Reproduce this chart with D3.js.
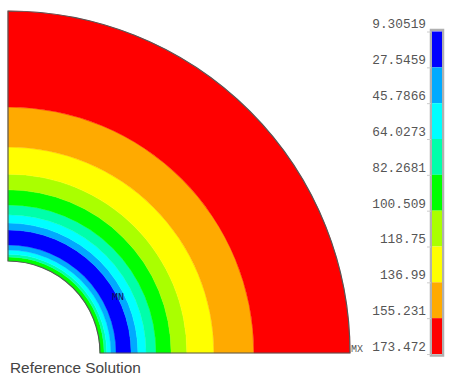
<!DOCTYPE html>
<html>
<head>
<meta charset="utf-8">
<script src="https://cdnjs.cloudflare.com/ajax/libs/d3/7.8.5/d3.min.js"></script>
<style>
html, body { margin: 0; padding: 0; background: #fff; }
svg { display: block; }
</style>
</head>
<body>
<div id="chart"></div>
<script>
// contour levels, low to high
var levelColors = ["#0000ff", "#00aaff", "#00ffff", "#00ffaa", "#00ff00", "#aaff00", "#ffff00", "#ffaa00", "#ff0000"];
var levelLabels = ["9.30519", "27.5459", "45.7866", "64.0273", "82.2681", "100.509", "118.75", "136.99", "155.231", "173.472"];

// band edges read along the radius, as a fraction of the outer radius
var bandEdges = [0.269, 0.281, 0.289, 0.301, 0.316, 0.36, 0.38, 0.404, 0.433, 0.477, 0.523, 0.602, 0.719, 1];
// level index of each band, inside to outside
var bandLevels = [4, 3, 2, 1, 0, 1, 2, 3, 4, 5, 6, 7, 8];

var width = 451, height = 388;
var cx = 8, cy = 353, outer = 342;

var svg = d3.select("#chart").append("svg")
    .attr("width", width)
    .attr("height", height);

var r = d3.scaleLinear().domain([0, 1]).range([0, outer]);
var arc = d3.arc().startAngle(0).endAngle(Math.PI / 2);

var plot = svg.append("g")
    .attr("transform", "translate(" + cx + "," + cy + ")");

plot.selectAll("path.band")
    .data(bandLevels)
    .enter().append("path")
    .attr("class", "band")
    .attr("d", (d, i) => arc({innerRadius: r(bandEdges[i]), outerRadius: r(bandEdges[i + 1])}))
    .attr("fill", d => levelColors[d])
    .attr("stroke", d => levelColors[d])
    .attr("stroke-width", 0.4);

// outline of the quarter ring
plot.append("path")
    .attr("d", arc({innerRadius: r(bandEdges[0]), outerRadius: r(1)}))
    .attr("fill", "none")
    .attr("stroke", "#555")
    .attr("stroke-width", 1.2);

plot.append("text")
    .attr("x", 110)
    .attr("y", -53)
    .attr("text-anchor", "middle")
    .attr("font-family", "Liberation Mono")
    .attr("font-size", 10)
    .attr("fill", "#115")
    .text("MN");

plot.append("text")
    .attr("x", 343)
    .attr("y", -1)
    .attr("font-family", "Liberation Mono")
    .attr("font-size", 10)
    .attr("fill", "#555")
    .text("MX");

// colour bar
var barTop = 31.5, barBottom = 354, barLeft = 432, barWidth = 10;
var band = d3.scaleBand()
    .domain(levelColors)
    .range([barTop, barBottom]);
var point = d3.scalePoint()
    .domain(levelLabels)
    .range([barTop, barBottom]);

svg.append("rect")
    .attr("x", barLeft - 1)
    .attr("y", barTop - 1.5)
    .attr("width", barWidth + 2)
    .attr("height", barBottom - barTop + 3)
    .attr("fill", "none")
    .attr("stroke", "#b0b0b0")
    .attr("stroke-width", 2.5);

svg.selectAll("rect.level")
    .data(levelColors)
    .enter().append("rect")
    .attr("class", "level")
    .attr("x", barLeft)
    .attr("y", d => band(d))
    .attr("width", barWidth)
    .attr("height", band.bandwidth())
    .attr("fill", d => d);

var axis = svg.append("g")
    .attr("transform", "translate(" + (barLeft - 1) + ",0)")
    .call(d3.axisLeft(point).tickSize(4).tickPadding(1));
axis.select(".domain").remove();
axis.selectAll(".tick line").attr("stroke", "#ccc");
axis.selectAll(".tick text")
    .attr("dy", "-0.28em")
    .attr("font-family", "Liberation Mono")
    .attr("font-size", 12.8)
    .attr("fill", "#555");

svg.append("text")
    .attr("x", 10)
    .attr("y", 373)
    .attr("font-family", "Liberation Sans")
    .attr("font-size", 15.4)
    .attr("fill", "#444")
    .text("Reference Solution");
</script>
</body>
</html>
